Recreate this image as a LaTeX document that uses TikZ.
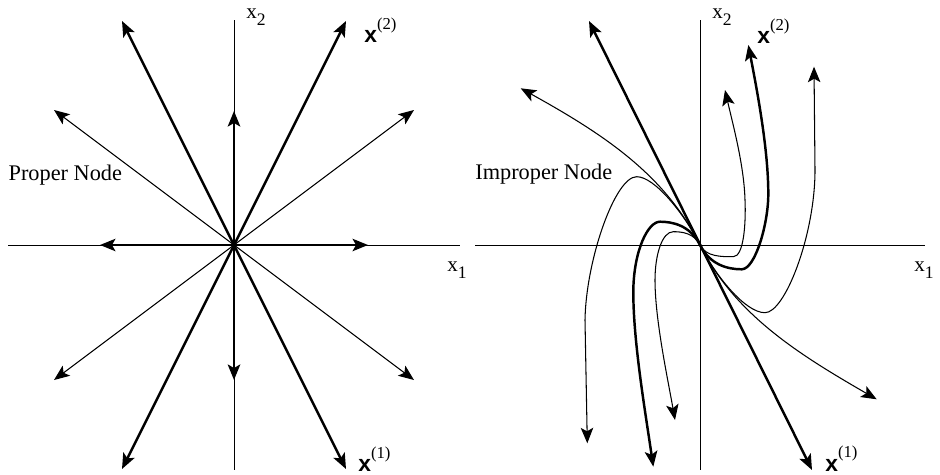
\documentclass[tikz,border=0pt]{standalone}
\usepackage{fontspec}
\setmainfont{Liberation Serif}
\setsansfont{Liberation Sans}
\usepackage{tikz}
\usetikzlibrary{arrows.meta,calc}
\newcommand{\idx}[1]{\raisebox{-4pt}{\fontsize{10}{10}\selectfont #1}}
\newcommand{\evec}[1]{{\fontsize{13}{13}\sffamily\bfseries x}\raisebox{7.5pt}{\fontsize{9.5}{10}\selectfont(#1)}}

\begin{document}
\begin{tikzpicture}[x=0.02cm,y=-0.02cm,
  >={Stealth[length=3.1mm,width=2.5mm,inset=0.7mm]},
  ax/.style={line width=0.5pt},
  thk/.style={line width=1.4pt},
  thn/.style={line width=0.6pt},
  mid/.style={line width=0.8pt},
  lbl/.style={inner sep=0,anchor=base west,font=\fontsize{12}{12}\selectfont},
  ttl/.style={inner sep=0,anchor=base west,font=\fontsize{12.7}{14}\selectfont}]
  \useasboundingbox (0,0) rectangle (940,474);
  \coordinate (L) at (234,245);
  \coordinate (R) at (700,245);
  % proper node
  \draw[ax] (L) ++(-226,0) -- ++(452,0);
  \draw[ax] (L) ++(0,-225) -- ++(0,450);
  \foreach \dx/\dy/\st in {112/224/thk,-112/224/thk,180/135/thn,-180/135/thn}
    \draw[\st,<->] ($(L)+(\dx,\dy)$) -- ($(L)-(\dx,\dy)$);
  \draw[thk,->] (L) -- ++(0,-134);
  \draw[thk,->] (L) -- ++(0,135);
  \draw[mid,->] (L) -- ++(134,0);
  \draw[mid,->] (L) -- ++(-134,0);
  \node[lbl] (x1L) at (447,271.7) {x\idx{1}};
  \node[lbl] (x2L) at (246,18.3) {x\idx{2}};
  \node[lbl] (v2L) at (364,42.7) {\evec{2}};
  \node[lbl] (v1L) at (358,471.5) {\evec{1}};
  \node[ttl] (proper) at (8.3,180) {Proper Node};
  % improper node
  \draw[ax] (R) ++(-225,0) -- ++(450,0);
  \draw[ax] (R) ++(0,-225) -- ++(0,450);
  \draw[thk,<->] ($(R)+(-111,-224)$) -- ($(R)+(112,225)$);
  \draw[thn,->] (R) .. controls (665,175) and (605,135) .. (520.7,88.3);
  \draw[thn,->] (R) .. controls (735,315) and (800,355) .. (876.7,399.3);
  \draw[thn,->] (R) .. controls (685,215) and (655,176.7) .. (636.7,176.7)
    .. controls (615,176.7) and (586,260) .. (585,320) -- (587.3,443.3);
  \draw[thn,->] (R) .. controls (715,275) and (745,312.7) .. (765,312.7)
    .. controls (785,312.7) and (815,235) .. (815,170) -- (814,66.7);
  \draw[thn,->] (R) .. controls (706,257) and (722,256.7) .. (733.3,256.7)
    .. controls (744,256.7) and (746,222) .. (745,200)
    .. controls (744,165) and (733,125) .. (725,90);
  \draw[thn,->] (R) .. controls (694,233) and (682,231.7) .. (673.3,231.7)
    .. controls (662,231.7) and (655,255) .. (655,280)
    .. controls (655,320) and (668,380) .. (675,420);
  \draw[thk,->] (R) .. controls (710,265) and (728,269.3) .. (741.7,269.3)
    .. controls (755,269.3) and (768,225) .. (768.3,195)
    .. controls (768.5,150) and (757,90) .. (748.3,45);
  \draw[thk,->] (R) .. controls (690,225) and (672,221.7) .. (660,221.7)
    .. controls (648,221.7) and (634,250) .. (633.3,290)
    .. controls (633,340) and (645,410) .. (653.3,466.7);
  \node[lbl] (x1R) at (914,271.7) {x\idx{1}};
  \node[lbl] (x2R) at (712,18.3) {x\idx{2}};
  \node[lbl] (v2R) at (757,43.3) {\evec{2}};
  \node[lbl] (v1R) at (825,471) {\evec{1}};
  \node[ttl] (improper) at (475,179) {Improper Node};
\end{tikzpicture}
\end{document}
